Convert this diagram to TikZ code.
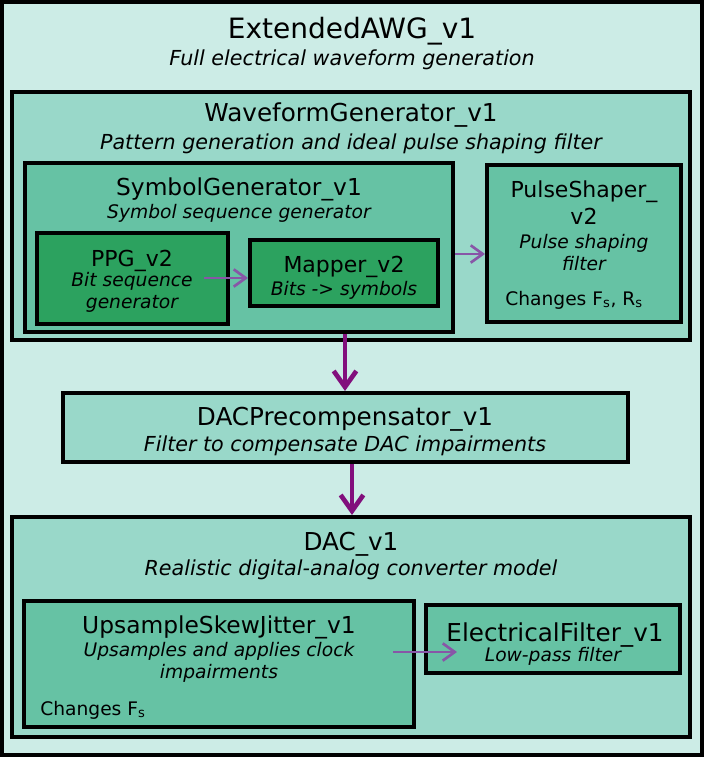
\documentclass[tikz,border=0pt]{standalone}
\usepackage{fontspec}
\setmainfont{DejaVu Sans}
\usetikzlibrary{arrows.meta}
\usetikzlibrary{fit}

\definecolor{bgOuter}{HTML}{CCECE6}
\definecolor{bgMid}{HTML}{99D8C9}
\definecolor{bgInner}{HTML}{66C2A4}
\definecolor{bgCore}{HTML}{2CA25F}
\definecolor{flowThin}{HTML}{8856A7}
\definecolor{flowThick}{HTML}{810F7C}

\tikzset{
  blk/.style={draw=black, line width=3pt, inner sep=0pt, rectangle},
  ttl/.style={anchor=base, inner sep=0pt, font=\fontsize{21}{25}\selectfont},
  hdr/.style={anchor=base, inner sep=0pt, font=\fontsize{18.5}{22}\selectfont},
  hdrin/.style={anchor=base, inner sep=0pt, font=\fontsize{17.5}{21}\selectfont},
  hdrcore/.style={anchor=base, inner sep=0pt, align=center, font=\fontsize{16.5}{20}\selectfont},
  sub/.style={anchor=base, inner sep=0pt, font=\fontsize{15.5}{18}\selectfont\itshape},
  subin/.style={anchor=base, inner sep=0pt, align=center, font=\fontsize{14}{16.5}\selectfont\itshape},
  note/.style={anchor=base west, inner sep=0pt, font=\fontsize{14}{17}\selectfont},
  thinflow/.style={draw=flowThin, line width=2pt, -{Straight Barb[length=9pt, width=13pt]}},
  thickflow/.style={draw=flowThick, line width=3.5pt, -{Straight Barb[length=12pt, width=17pt]}}
}

% block from corner to corner, in pixels
\newcommand{\blkbox}[6]{\node[blk, fill=#2, fit={(#3,#4) (#5,#6)}] (#1) {};}

\begin{document}
\begin{tikzpicture}[x=0.75pt, y=-0.75pt]

\useasboundingbox (0,0) rectangle (704,757);

% outer block
\blkbox{awg}{bgOuter}{2}{2}{702}{755}
\node[ttl] (awgT) at (352,38) {ExtendedAWG\_v1};
\node[sub] (awgS) at (352,65) {Full electrical waveform generation};

% waveform generator
\blkbox{wfg}{bgMid}{12}{92}{690}{340}
\node[hdr] (wfgT) at (351,121) {WaveformGenerator\_v1};
\node[sub] (wfgS) at (351,149) {Pattern generation and ideal pulse shaping filter};

\blkbox{sym}{bgInner}{25}{163}{453}{332}
\node[hdrin] (symT) at (239,195) {SymbolGenerator\_v1};
\node[subin] (symS) at (239,218) {Symbol sequence generator};

\blkbox{ppg}{bgCore}{37}{233}{228}{324}
\node[hdrcore] (ppgT) at (132,266) {PPG\_v2};
\node[subin] (ppgS) at (132,308) {Bit sequence\\generator};

\blkbox{map}{bgCore}{250}{240}{438}{306}
\node[hdrcore] (mapT) at (344,272) {Mapper\_v2};
\node[subin] (mapS) at (344,295) {Bits -{}> symbols};

\blkbox{pls}{bgInner}{487}{165}{681}{322}
\node[hdrcore] (plsT) at (584,224) {PulseShaper\_\\v2};
\node[subin] (plsS) at (584,270) {Pulse shaping\\filter};
\node[note] (plsN) at (505,305) {Changes F\textsubscript{s}, R\textsubscript{s}};

\coordinate (ppgOut) at (204,278);
\draw[thinflow] (ppgOut) -- (map.west |- ppgOut);
\coordinate (symOut) at (453,254);
\draw[thinflow] (sym.east |- symOut) -- (pls.west |- symOut);

% precompensation
\blkbox{dpc}{bgMid}{63}{393}{628}{462}
\node[hdr] (dpcT) at (345,425) {DACPrecompensator\_v1};
\node[sub] (dpcS) at (345,451) {Filter to compensate DAC impairments};

\coordinate (wfgX) at (345,0);
\draw[thickflow] (sym.south -| wfgX) -- (dpc.north -| wfgX);

% DAC
\blkbox{dac}{bgMid}{12}{517}{690}{737}
\node[hdr] (dacT) at (351,550) {DAC\_v1};
\node[sub] (dacS) at (351,575) {Realistic digital-analog converter model};

\coordinate (dpcX) at (352,0);
\draw[thickflow] (dpc.south -| dpcX) -- (dac.north -| dpcX);

\blkbox{usj}{bgInner}{24}{601}{414}{727}
\node[hdrin] (usjT) at (219,633) {UpsampleSkewJitter\_v1};
\node[subin] (usjS) at (219,678) {Upsamples and applies clock\\impairments};
\node[note] (usjN) at (40,715) {Changes F\textsubscript{s}};

\blkbox{elf}{bgInner}{426}{605}{680}{673}
\node[hdrin, font=\fontsize{18.5}{22}\selectfont] (elfT) at (555,641) {ElectricalFilter\_v1};
\node[subin] (elfS) at (553,661) {Low-pass filter};

\coordinate (usjOut) at (393,652);
\coordinate (elfIn) at (457,652);
\draw[thinflow] (usjOut) -- (elfIn);

\end{tikzpicture}
\end{document}
